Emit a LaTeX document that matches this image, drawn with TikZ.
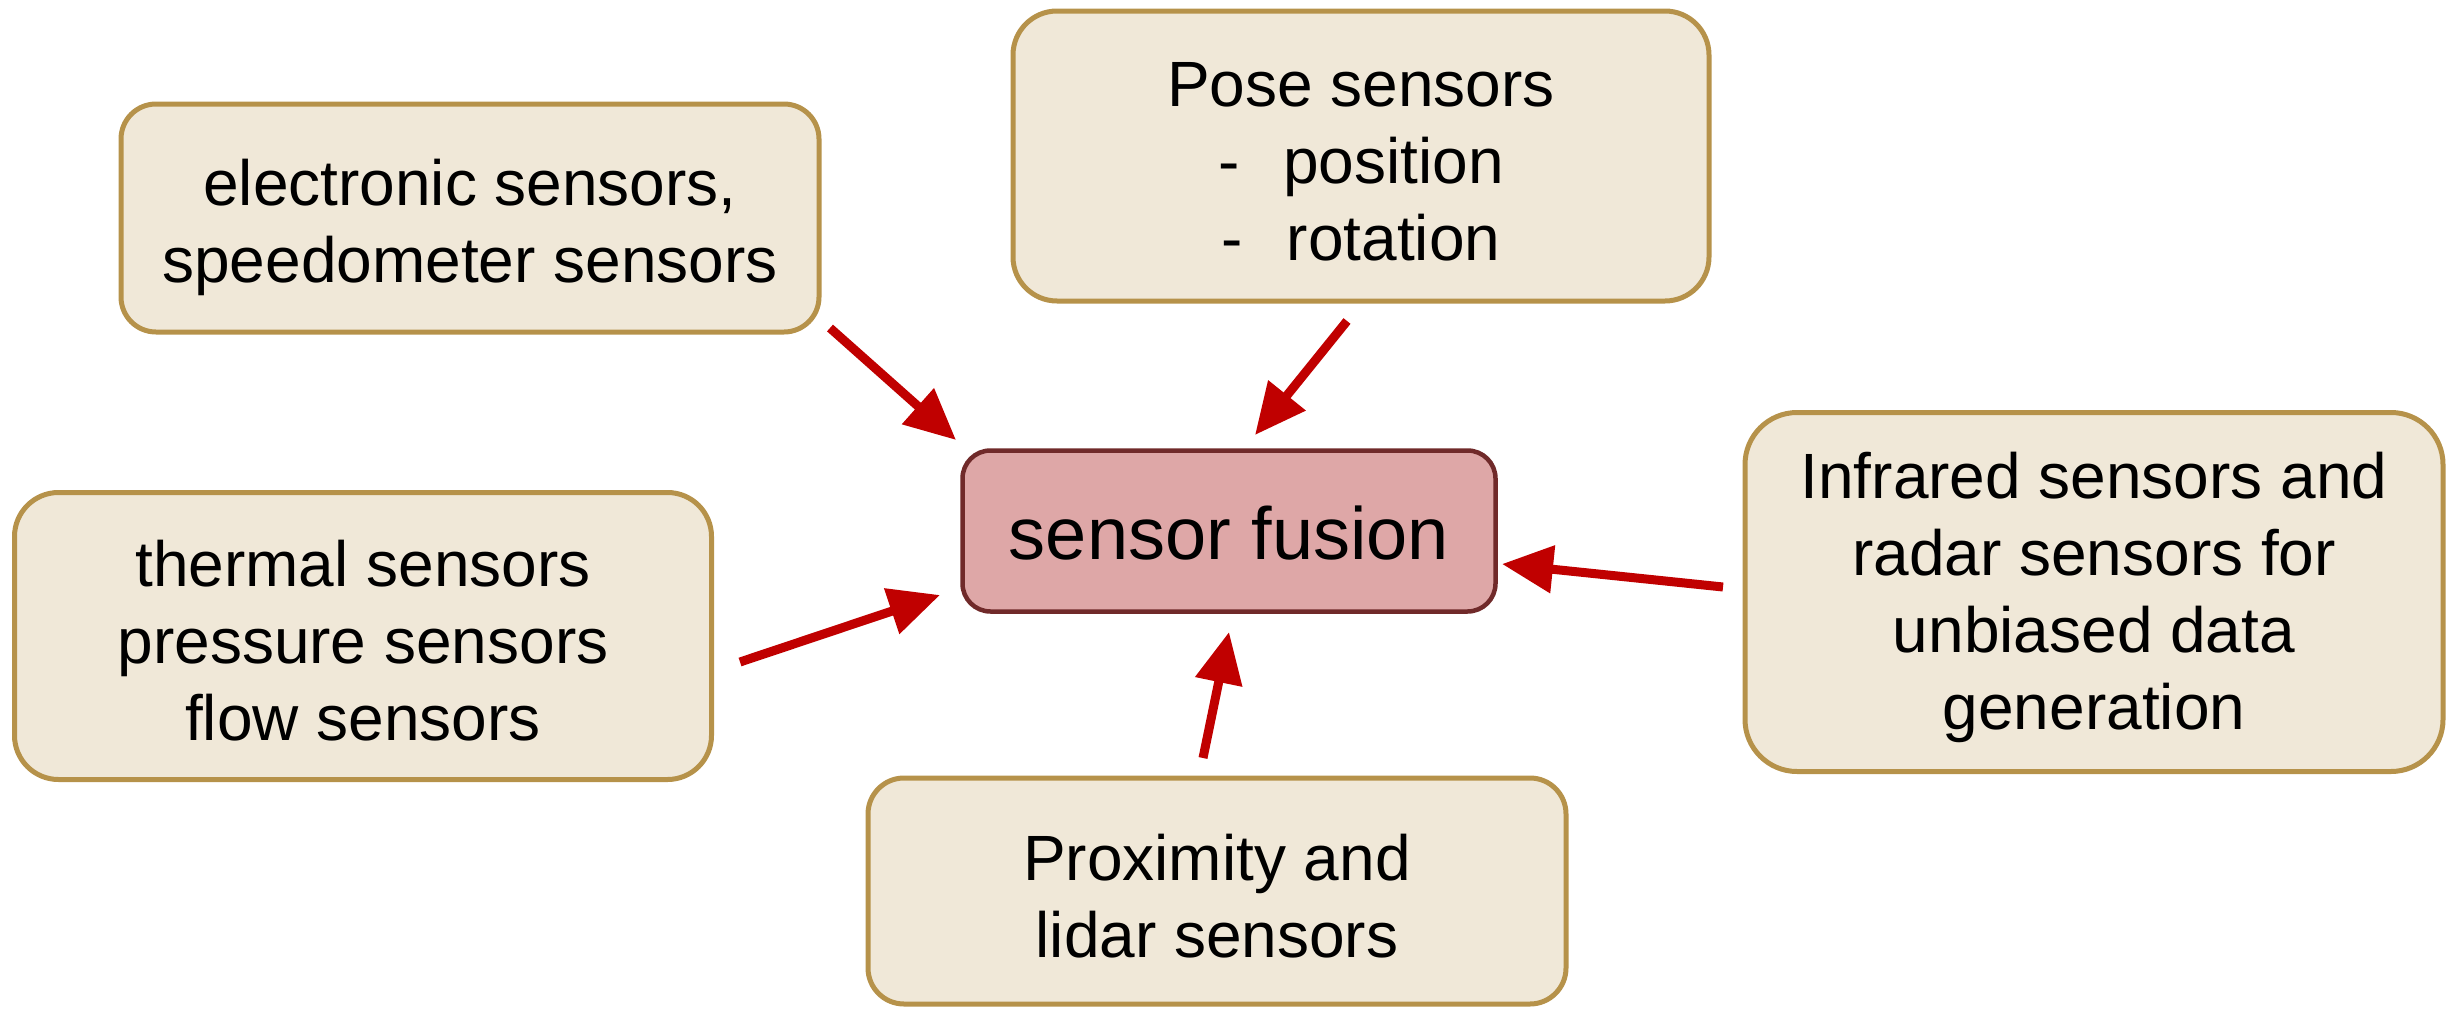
\documentclass[tikz,border=0pt]{standalone}
\usepackage{fontspec}
\setmainfont{Liberation Sans}
\usetikzlibrary{arrows.meta}
\definecolor{tanfill}{RGB}{240,232,216}
\definecolor{tanline}{RGB}{182,146,74}
\definecolor{fusfill}{RGB}{222,167,167}
\definecolor{fusline}{RGB}{112,42,42}
\definecolor{arrred}{RGB}{192,0,0}
\newcommand{\topstrut}[1]{\rule{0pt}{#1}}
\tikzset{
  srcbox/.style={draw=tanline, fill=tanfill, line width=5pt, inner sep=0pt,
    align=center, font=\fontsize{64}{77}\selectfont},
  fusbox/.style={draw=fusline, fill=fusfill, line width=4.5pt, inner sep=0pt,
    rounded corners=28pt, font=\fontsize{74}{88}\selectfont},
  flow/.style={draw=arrred, line width=9pt, -{Triangle[width=46pt,length=51pt]}}
}
\begin{document}
\begin{tikzpicture}[x=1pt,y=-1pt]
\useasboundingbox (0,0) rectangle (2458,1009);
\node[srcbox, rounded corners=35pt, minimum width=698pt, minimum height=228pt] (elec) at (470,218)
  {\topstrut{65pt}electronic sensors,\\speedometer sensors};
\node[srcbox, rounded corners=44pt, minimum width=696pt, minimum height=290pt] (pose) at (1361,156)
  {\topstrut{55pt}Pose sensors\\-\hspace{44pt}position\\-\hspace{44pt}rotation};
\node[srcbox, rounded corners=44pt, minimum width=697pt, minimum height=287pt] (therm) at (363,636)
  {\topstrut{55pt}thermal sensors\\pressure sensors\\flow sensors};
\node[srcbox, rounded corners=52pt, minimum width=698pt, minimum height=359pt] (infra) at (2094,592)
  {\topstrut{58pt}Infrared sensors and\\radar sensors for\\unbiased data\\generation};
\node[srcbox, rounded corners=36pt, minimum width=698pt, minimum height=226pt] (prox) at (1217,891)
  {\topstrut{57pt}Proximity and\\lidar sensors};
\node[fusbox, minimum width=533pt, minimum height=161pt] (fus) at (1229,531) {\topstrut{58pt}sensor fusion};

\coordinate (elecT) at (830,328);
\coordinate (elecH) at (956,440);
\coordinate (poseT) at (1347,321);
\coordinate (poseH) at (1255,435);
\coordinate (thermT) at (740,662);
\coordinate (thermH) at (940,595);
\coordinate (infraT) at (1723,587);
\coordinate (infraH) at (1502,564);
\coordinate (proxT) at (1203,758);
\coordinate (proxH) at (1229,632);

\draw[flow] (elecT) -- (elecH);
\draw[flow] (poseT) -- (poseH);
\draw[flow] (thermT) -- (thermH);
\draw[flow] (infraT) -- (infraH);
\draw[flow] (proxT) -- (proxH);
\end{tikzpicture}
\end{document}
